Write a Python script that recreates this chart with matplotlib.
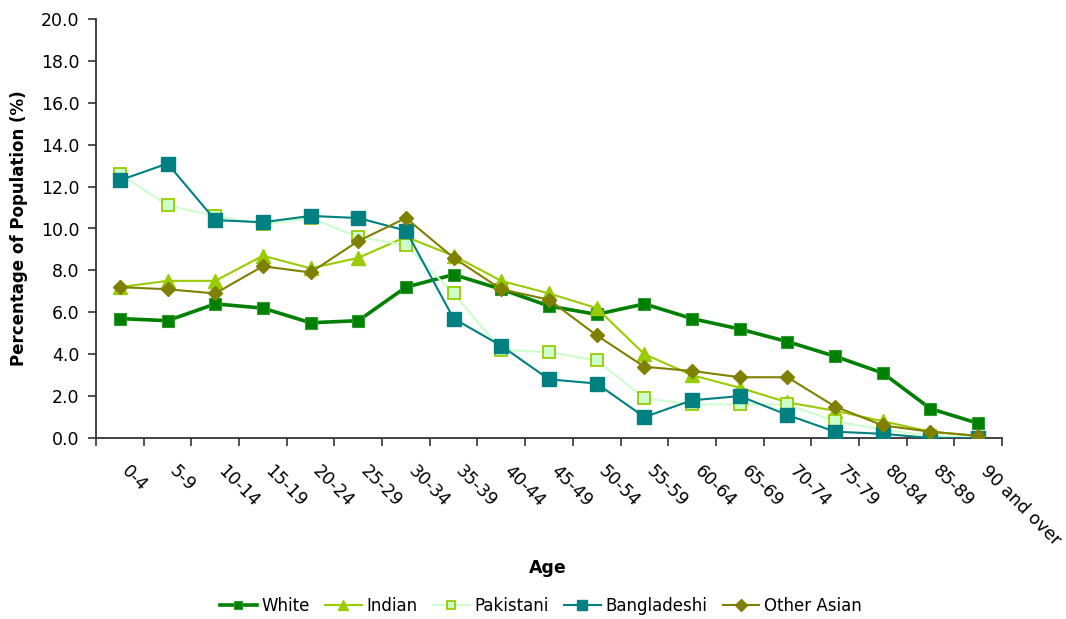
import matplotlib
matplotlib.use("Agg")
import matplotlib.pyplot as plt
import matplotlib.transforms as mtransforms
import numpy as np

# Age bands and population shares (%) by ethnic group
age_bands = ["0-4", "5-9", "10-14", "15-19", "20-24", "25-29", "30-34", "35-39",
             "40-44", "45-49", "50-54", "55-59", "60-64", "65-69", "70-74",
             "75-79", "80-84", "85-89", "90 and over"]

white = [5.7, 5.6, 6.4, 6.2, 5.5, 5.6, 7.2, 7.8, 7.1, 6.3, 5.9, 6.4, 5.7, 5.2,
         4.6, 3.9, 3.1, 1.4, 0.7]
indian = [7.2, 7.5, 7.5, 8.7, 8.1, 8.6, 9.6, 8.7, 7.5, 6.9, 6.2, 4.0, 3.0, 2.4,
          1.7, 1.3, 0.8, 0.3, 0.1]
pakistani = [12.6, 11.1, 10.6, 10.2, 10.5, 9.6, 9.2, 6.9, 4.2, 4.1, 3.7, 1.9,
             1.6, 1.6, 1.6, 0.8, 0.4, 0.1, 0.0]
bangladeshi = [12.3, 13.1, 10.4, 10.3, 10.6, 10.5, 9.9, 5.7, 4.4, 2.8, 2.6, 1.0,
               1.8, 2.0, 1.1, 0.3, 0.2, 0.0, 0.0]
other_asian = [7.2, 7.1, 6.9, 8.2, 7.9, 9.4, 10.5, 8.6, 7.1, 6.6, 4.9, 3.4, 3.2,
               2.9, 2.9, 1.5, 0.6, 0.3, 0.1]

plt.rcParams["font.family"] = ["DejaVu Sans"]

fig = plt.figure(figsize=(10.66, 6.19), dpi=100)
ax = fig.add_axes([96 / 1066, (619 - 438) / 619, (1002 - 96) / 1066, (438 - 19) / 619])

x = np.arange(len(age_bands))

ax.plot(x, white, color="#008000", lw=2.6, marker="s", ms=8,
        mfc="#008000", mec="#2E9A2E", mew=0.8, label="White", zorder=3)
ax.plot(x, indian, color="#99CC00", lw=1.5, marker="^", ms=9.5,
        mfc="#99CC00", mec="#99CC00", label="Indian", zorder=4)
ax.plot(x, pakistani, color="#CCFFCC", lw=1.5, marker="s", ms=8,
        mfc="#CCFFCC", mec="#99CC00", mew=1.3, label="Pakistani", zorder=5)
ax.plot(x, bangladeshi, color="#008080", lw=1.5, marker="s", ms=10.5,
        mfc="#008080", mec="#008080", label="Bangladeshi", zorder=6)
ax.plot(x, other_asian, color="#808000", lw=1.5, marker="D", ms=7.5,
        mfc="#808000", mec="#808000", label="Other Asian", zorder=7)

axis_col = "#333333"
ax.set_xlim(-0.5, len(age_bands) - 0.5)
ax.set_ylim(0, 20)
ax.set_yticks(np.arange(0, 20.1, 2.0))
ax.set_yticklabels([f"{v:.1f}" for v in np.arange(0, 20.1, 2.0)])

# Ticks sit on category boundaries; labels sit at category centres
ax.set_xticks(np.arange(-0.5, len(age_bands), 1.0))
ax.set_xticklabels([])
ax.set_xticks(x, minor=True)
ax.set_xticklabels(age_bands, minor=True, rotation=-45, ha="left", va="center",
                   rotation_mode="anchor")
ax.tick_params(axis="x", which="minor", length=0, pad=22, labelsize=12.5)
ax.tick_params(axis="x", which="major", length=6, width=1.2, color=axis_col,
               direction="out")
ax.tick_params(axis="y", length=6, width=1.2, color=axis_col, direction="out",
               pad=6, labelsize=12.5)

# nudge the slanted category labels a little to the right
shift = mtransforms.ScaledTranslation(5 / 100, 0, fig.dpi_scale_trans)
for lbl in ax.get_xticklabels(minor=True):
    lbl.set_transform(lbl.get_transform() + shift)

for side in ("top", "right"):
    ax.spines[side].set_visible(False)
for side in ("left", "bottom"):
    ax.spines[side].set_color(axis_col)
    ax.spines[side].set_linewidth(1.3)

ax.set_ylabel("Percentage of Population (%)", fontsize=12, fontweight="bold",
              labelpad=9)
fig.text(548 / 1066, 1 - 568 / 619, "Age", fontsize=12.5, fontweight="bold",
         ha="center", va="center")

fig.legend(loc="center", bbox_to_anchor=(541 / 1066, 1 - 606 / 619), ncol=5,
           frameon=False, fontsize=12, handlelength=2.2, handletextpad=0.3,
           columnspacing=0.9, markerscale=0.75)

fig.savefig("out.png", dpi=100)
